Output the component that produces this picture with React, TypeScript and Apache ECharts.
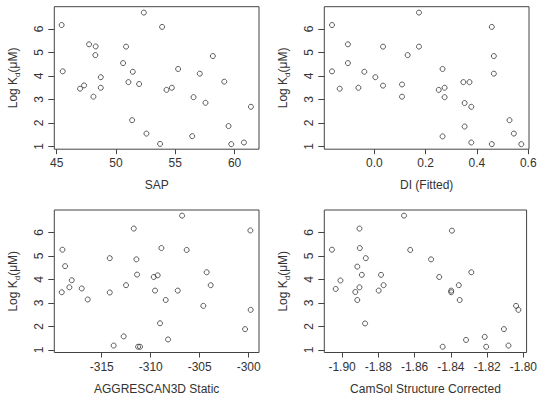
import React, { useEffect, useRef } from "react";
import * as echarts from "echarts";

// Log Kd (μM) against four aggregation / solubility predictors
const yTicks = [1, 2, 3, 4, 5, 6];

const sapTicks = [45, 50, 55, 60];
const sapX = [45.42, 45.51, 46.97, 47.31, 47.73, 48.1, 48.29, 48.26, 48.72, 48.72, 50.6, 50.85, 51.05, 51.42, 51.36, 51.95, 52.35, 52.57, 53.72, 53.89, 54.26, 54.71, 55.24, 56.43, 56.54, 57.07, 57.55, 58.17, 59.13, 59.49, 59.72, 60.79, 61.38];
const sapY = [6.17, 4.2, 3.46, 3.6, 5.35, 3.12, 5.26, 4.89, 3.95, 3.5, 4.55, 5.25, 3.74, 4.18, 2.12, 3.66, 6.7, 1.55, 1.11, 6.09, 3.41, 3.5, 4.3, 1.44, 3.1, 4.1, 2.86, 4.85, 3.76, 1.87, 1.1, 1.17, 2.69];

const diTicks = [0, 0.2, 0.4, 0.6];
const diX = [-0.165, -0.165, -0.135, -0.103, -0.103, -0.062, -0.039, 0.004, 0.034, 0.034, 0.108, 0.108, 0.13, 0.174, 0.174, 0.251, 0.266, 0.266, 0.274, 0.274, 0.347, 0.371, 0.352, 0.352, 0.378, 0.378, 0.458, 0.458, 0.466, 0.466, 0.527, 0.544, 0.573];
const diY = [6.17, 4.2, 3.46, 5.35, 4.55, 3.5, 4.18, 3.95, 5.25, 3.59, 3.64, 3.12, 4.89, 6.7, 5.25, 3.41, 4.3, 1.43, 3.5, 3.1, 3.74, 3.74, 2.85, 1.85, 2.69, 1.17, 6.09, 1.1, 4.85, 4.1, 2.12, 1.55, 1.1];

const a3dTicks = [-315, -310, -305, -300];
const a3dX = [-319.08, -319.01, -318.74, -318.3, -318.06, -317.04, -316.43, -314.18, -314.18, -313.78, -312.76, -312.52, -311.73, -311.46, -311.39, -311.29, -311.09, -309.69, -309.56, -309.29, -308.91, -309.05, -308.47, -308.23, -307.24, -306.8, -306.33, -304.63, -304.29, -303.88, -300.37, -299.83, -299.8];
const a3dY = [3.45, 5.26, 4.56, 3.66, 3.96, 3.61, 3.14, 4.9, 3.44, 1.18, 1.57, 3.75, 6.16, 4.85, 4.2, 1.13, 1.13, 4.1, 3.52, 4.17, 5.33, 2.13, 3.12, 1.44, 3.52, 6.71, 5.25, 2.87, 4.3, 3.75, 1.88, 6.08, 2.7];

const camTicks = [-1.9, -1.88, -1.86, -1.84, -1.82, -1.8];
const camX = [-1.9056, -1.9035, -1.9009, -1.8927, -1.8916, -1.8916, -1.8904, -1.8902, -1.8904, -1.8891, -1.8869, -1.8873, -1.8798, -1.8785, -1.8771, -1.8658, -1.8624, -1.8509, -1.8464, -1.8445, -1.8398, -1.8398, -1.8394, -1.8356, -1.8351, -1.8316, -1.8287, -1.8213, -1.8205, -1.8107, -1.8082, -1.804, -1.8027];
const camY = [5.26, 3.59, 3.95, 3.46, 4.54, 3.12, 6.16, 5.33, 3.66, 4.19, 4.9, 2.12, 3.52, 4.19, 3.75, 6.71, 5.25, 4.85, 4.1, 1.13, 3.52, 3.45, 6.07, 3.75, 3.12, 1.42, 4.3, 1.55, 1.13, 1.88, 1.18, 2.87, 2.7];

const INK = "#333";
const FONT = "'Liberation Sans', Arial, sans-serif";

type Panel = {
  title: string;
  ticks: number[];
  digits: number;
  xs: number[];
  ys: number[];
  min: number;
  max: number;
  left: number;
  top: number;
};

const panels: Panel[] = [
  { title: "SAP", ticks: sapTicks, digits: 0, xs: sapX, ys: sapY, min: 44.8, max: 62.06, left: 54.3, top: 6.7 },
  { title: "DI (Fitted)", ticks: diTicks, digits: 1, xs: diX, ys: diY, min: -0.195, max: 0.603, left: 324.3, top: 6.7 },
  { title: "AGGRESCAN3D Static", ticks: a3dTicks, digits: 0, xs: a3dX, ys: a3dY, min: -319.84, max: -298.95, left: 54.3, top: 210 },
  { title: "CamSol Structure Corrected", ticks: camTicks, digits: 2, xs: camX, ys: camY, min: -1.9098, max: -1.7982, left: 324.3, top: 210 },
];

export default function App() {
  const ref = useRef<HTMLDivElement>(null);

  useEffect(() => {
    if (!ref.current) return;
    const chart = echarts.init(ref.current, null, { renderer: "svg" });

    const grid = panels.map((p) => ({
      left: p.left,
      top: p.top,
      width: 204.7,
      height: 142.5,
      show: true,
      borderColor: "#444",
      borderWidth: 1,
      backgroundColor: "transparent",
      containLabel: false,
    }));

    const xAxis = panels.map((p, i) => ({
      type: "value",
      gridIndex: i,
      position: "bottom",
      min: p.min,
      max: p.max,
      name: p.title,
      nameLocation: "middle",
      nameGap: 30,
      nameTextStyle: { color: INK, fontSize: 12, fontFamily: FONT },
      splitLine: { show: false },
      axisLine: { show: false, onZero: false },
      axisTick: {
        show: true,
        length: 5,
        lineStyle: { color: "#444", width: 1 },
        customValues: p.ticks,
      },
      axisLabel: {
        color: INK,
        fontSize: 12,
        fontFamily: FONT,
        margin: 8,
        customValues: p.ticks,
        formatter: (v: number) => v.toFixed(p.digits),
      },
    }));

    const yAxis = panels.map((_p, i) => ({
      type: "value",
      gridIndex: i,
      position: "left",
      min: 0.885,
      max: 6.95,
      name: "{a|Log K}{b|d}{a|(μM)}",
      nameLocation: "middle",
      nameRotate: 90,
      nameGap: 33,
      nameTextStyle: {
        color: INK,
        fontFamily: FONT,
        rich: {
          a: { fontSize: 12, color: INK, fontFamily: FONT, lineHeight: 16 },
          b: { fontSize: 8, color: INK, fontFamily: FONT, lineHeight: 16, verticalAlign: "bottom", padding: [5, 0, 0, 0] },
        },
      },
      splitLine: { show: false },
      axisLine: { show: false, onZero: false },
      axisTick: {
        show: true,
        length: 6,
        lineStyle: { color: "#444", width: 1 },
        customValues: yTicks,
      },
      axisLabel: {
        color: INK,
        fontSize: 12,
        fontFamily: FONT,
        rotate: 90,
        margin: 9,
        customValues: yTicks,
        formatter: (v: number) => String(v),
      },
    }));

    const series = panels.map((p, i) => ({
      type: "scatter",
      xAxisIndex: i,
      yAxisIndex: i,
      symbol: "circle",
      symbolSize: 5,
      itemStyle: { color: "rgba(0,0,0,0)", borderColor: INK, borderWidth: 1 },
      data: p.xs.map((x, k) => [x, p.ys[k]]),
      silent: true,
    }));

    chart.setOption({
      animation: false,
      backgroundColor: "#fff",
      grid,
      xAxis,
      yAxis,
      series,
    });

    return () => chart.dispose();
  }, []);

  return (
    <div
      ref={ref}
      style={{ position: "fixed", left: 0, top: 0, width: 540, height: 407 }}
    />
  );
}
